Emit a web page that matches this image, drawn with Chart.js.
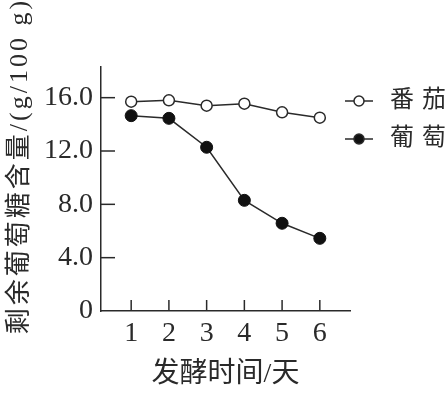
<!DOCTYPE html>
<html>
<head>
<meta charset="utf-8">
<script src="https://cdn.jsdelivr.net/npm/chart.js@4.4.1/dist/chart.umd.min.js"></script>
<style>
  html, body { margin: 0; padding: 0; background: #fff; }
  #wrap { width: 446px; height: 393px; }
</style>
</head>
<body>
<div id="wrap"><canvas id="chart" width="446" height="393"></canvas></div>
<script>
// data
const days = [1, 2, 3, 4, 5, 6];
const tomato = [15.7, 15.8, 15.4, 15.55, 14.9, 14.5];
const grape = [14.65, 14.45, 12.28, 8.3, 6.58, 5.45];
const yTicks = [0, 4, 8, 12, 16];
const yTickLabels = ['0', '4.0', '8.0', '12.0', '16.0'];
const seriesNames = ['番茄', '葡萄'];
const xTitle = '发酵时间/天';
const yTitle = '剩余葡萄糖含量/(g/100 g)';

const ink = '#2a2a2a';
const fontFamily = "'Liberation Serif', 'Noto Sans CJK SC', serif";

// small inward ticks on both axes
const innerTicks = {
  id: 'innerTicks',
  afterDraw(chart) {
    const { ctx, chartArea, scales } = chart;
    ctx.save();
    ctx.strokeStyle = ink;
    ctx.lineWidth = 1.5;
    yTicks.forEach(v => {
      if (v === 0) return;
      const y = scales.y.getPixelForValue(v);
      ctx.beginPath();
      ctx.moveTo(chartArea.left, y);
      ctx.lineTo(chartArea.left + 14, y);
      ctx.stroke();
    });
    days.forEach(d => {
      const x = scales.x.getPixelForValue(d);
      ctx.beginPath();
      ctx.moveTo(x, chartArea.bottom);
      ctx.lineTo(x, chartArea.bottom - 11);
      ctx.stroke();
    });
    ctx.restore();
  }
};

// vertical y title and the legend on the right
const annotations = {
  id: 'annotations',
  afterDraw(chart) {
    const { ctx, chartArea } = chart;
    ctx.save();
    ctx.fillStyle = ink;
    ctx.font = '26px ' + fontFamily;
    ctx.textAlign = 'center';
    ctx.textBaseline = 'middle';
    ctx.translate(20, 166);
    ctx.rotate(-Math.PI / 2);
    ctx.letterSpacing = '3px';
    ctx.fillText(yTitle, 0, 0);
    ctx.restore();

    const legendX = chartArea.right - 5;
    const rows = [101, 139];
    ctx.save();
    rows.forEach((y, i) => {
      ctx.strokeStyle = ink;
      ctx.lineWidth = 1.5;
      ctx.beginPath();
      ctx.moveTo(legendX, y);
      ctx.lineTo(legendX + 28, y);
      ctx.stroke();
      ctx.beginPath();
      ctx.arc(legendX + 14, y, 5, 0, Math.PI * 2);
      ctx.fillStyle = i === 0 ? '#fff' : '#111';
      ctx.fill();
      ctx.stroke();
      ctx.fillStyle = ink;
      ctx.font = '24px ' + fontFamily;
      ctx.textAlign = 'left';
      ctx.textBaseline = 'middle';
      ctx.letterSpacing = '8px';
      ctx.fillText(seriesNames[i], legendX + 45, y);
    });
    ctx.restore();
  }
};

new Chart(document.getElementById('chart'), {
  type: 'line',
  data: {
    datasets: [
      {
        label: seriesNames[0],
        data: days.map((d, i) => ({ x: d, y: tomato[i] })),
        borderColor: ink,
        borderWidth: 1.5,
        pointRadius: 5.5,
        pointBorderWidth: 1.5,
        pointBackgroundColor: '#fff',
        pointBorderColor: ink
      },
      {
        label: seriesNames[1],
        data: days.map((d, i) => ({ x: d, y: grape[i] })),
        borderColor: ink,
        borderWidth: 1.5,
        pointRadius: 6,
        pointBorderWidth: 1,
        pointBackgroundColor: '#111',
        pointBorderColor: '#111'
      }
    ]
  },
  options: {
    responsive: false,
    animation: false,
    layout: { padding: { top: 67, right: 96, left: 0, bottom: 0 } },
    plugins: { legend: { display: false }, tooltip: { enabled: false } },
    scales: {
      x: {
        type: 'linear',
        min: 0.2,
        max: 6.8,
        afterBuildTicks: s => { s.ticks = days.map(v => ({ value: v })); },
        afterFit: s => { s.height = 82; },
        grid: { drawOnChartArea: false, drawTicks: false },
        border: { color: ink, width: 1.5 },
        ticks: {
          color: ink,
          padding: 6,
          maxRotation: 0,
          font: { family: fontFamily, size: 28 },
          callback: v => String(v)
        },
        title: {
          display: true,
          text: xTitle,
          color: ink,
          font: { family: fontFamily, size: 28 },
          padding: { top: 0, bottom: 2 }
        }
      },
      y: {
        min: 0,
        max: 18.3,
        afterBuildTicks: s => { s.ticks = yTicks.map(v => ({ value: v })); },
        afterFit: s => { s.width = 101; },
        grid: { drawOnChartArea: false, drawTicks: false },
        border: { color: ink, width: 1.5 },
        ticks: {
          color: ink,
          padding: 8,
          font: { family: fontFamily, size: 28 },
          callback: v => yTickLabels[yTicks.indexOf(v)]
        }
      }
    }
  },
  plugins: [innerTicks, annotations]
});
</script>
</body>
</html>
